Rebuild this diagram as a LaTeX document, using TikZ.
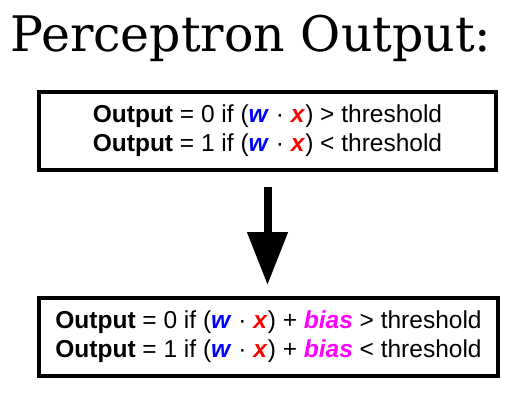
\documentclass[tikz,border=0pt]{standalone}
\usepackage{fontspec}
\setmainfont{Liberation Sans}
\newfontfamily\titlefont{DejaVu Serif}
\usepackage{xcolor}
\usetikzlibrary{positioning,arrows.meta}
\definecolor{wblue}{RGB}{0,0,255}
\definecolor{xred}{RGB}{255,0,0}
\definecolor{biasmag}{RGB}{255,0,255}
\newcommand{\wv}{\textcolor{wblue}{\textbf{\textit{w}}}}
\newcommand{\xv}{\textcolor{xred}{\textbf{\textit{x}}}}
\newcommand{\biasv}{\textcolor{biasmag}{\textbf{\textit{bias}}}}

\begin{document}
\begin{tikzpicture}[
    x=1pt, y=-1pt,
    title/.style={font=\titlefont\fontsize{49}{58}\selectfont, inner sep=0pt},
    rule/.style={rectangle, draw=black, line width=4pt, align=center,
                 minimum height=78pt, inner sep=0pt,
                 font=\fontsize{24.5}{29}\selectfont},
    arr/.style={-{Triangle[width=39pt,length=53pt]}, line width=8pt}
]
\useasboundingbox[fill=white] (0,0) rectangle (517,412);
\node[title, anchor=base west] (head) at (10,52) {Perceptron Output:};
\node[rule, minimum width=457pt] (plain) at (267.5,131)
    {\textbf{Output} = 0 if (\wv{} · \xv) > threshold\\
     \textbf{Output} = 1 if (\wv{} · \xv) < threshold};
\node[rule, minimum width=459pt, below=124pt of plain, xshift=1pt] (biased)
    {\textbf{Output} = 0 if (\wv{} · \xv) + \biasv{} > threshold\\
     \textbf{Output} = 1 if (\wv{} · \xv) + \biasv{} < threshold};

\draw[arr, shorten <=15pt, shorten >=11pt] (plain) -- (plain |- biased.north);
\end{tikzpicture}
\end{document}
